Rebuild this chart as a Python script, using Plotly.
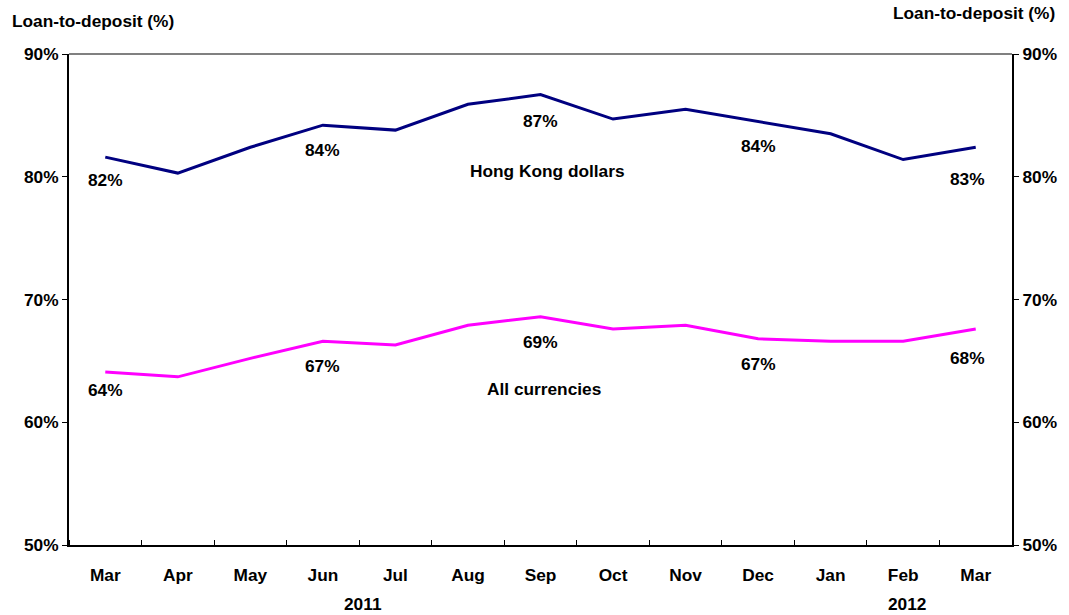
import plotly.graph_objects as go

months = ["Mar", "Apr", "May", "Jun", "Jul", "Aug", "Sep", "Oct", "Nov", "Dec", "Jan", "Feb", "Mar"]
hkd = [81.6, 80.3, 82.4, 84.2, 83.8, 85.9, 86.7, 84.7, 85.5, 84.5, 83.5, 81.4, 82.4]
allcur = [64.1, 63.7, 65.2, 66.6, 66.3, 67.9, 68.6, 67.6, 67.9, 66.8, 66.6, 66.6, 67.6]
label_idx = [0, 3, 6, 9, 12]
hkd_labels = ["82%", "84%", "87%", "84%", "83%"]
all_labels = ["64%", "67%", "69%", "67%", "68%"]
years = ["2011", "2012"]
year_pos = [3.5, 11.0]
y_ticks = [50, 60, 70, 80, 90]
y_ticktext = ["50%", "60%", "70%", "80%", "90%"]

x = list(range(len(months)))
FONT = "Liberation Sans"
FS = 17.3
bold = dict(family=FONT, size=FS, color="black", weight="bold")

fig = go.Figure()
fig.add_trace(go.Scatter(x=x, y=hkd, mode="lines", line=dict(color="#000080", width=3),
                         name="Hong Kong dollars", hoverinfo="skip"))
fig.add_trace(go.Scatter(x=x, y=allcur, mode="lines", line=dict(color="#FF00FF", width=3),
                         name="All currencies", hoverinfo="skip"))
fig.add_trace(go.Scatter(x=x, y=allcur, mode="lines", line=dict(width=0), opacity=0,
                         yaxis="y2", showlegend=False, hoverinfo="skip"))

ann = []
hkd_shift = [-23, -25, -26, -24, -32]
all_shift = [-18, -25, -25, -25, -29]
dx = [0, 0, 0, 0, -8]
for k, i in enumerate(label_idx):
    ann.append(dict(x=i, y=hkd[i], xref="x", yref="y", text=hkd_labels[k], showarrow=False,
                    yshift=hkd_shift[k], xshift=dx[k], font=bold))
    ann.append(dict(x=i, y=allcur[i], xref="x", yref="y", text=all_labels[k], showarrow=False,
                    yshift=all_shift[k], xshift=dx[k], font=bold))
ann.append(dict(x=6.0, y=80.5, xref="x", yref="y", text="Hong Kong dollars", showarrow=False,
                xshift=7, font=bold))
ann.append(dict(x=6.0, y=62.7, xref="x", yref="y", text="All currencies", showarrow=False,
                xshift=3, font=bold))
for yr, p in zip(years, year_pos):
    ann.append(dict(x=p, y=0, xref="x", yref="paper", text=yr, showarrow=False, yshift=-71,
                    xshift=4, font=bold))
ann.append(dict(x=0, y=1, xref="paper", yref="paper", xanchor="left", yanchor="bottom",
                text="Loan-to-deposit (%)", showarrow=False, xshift=-59, yshift=21, font=bold))
ann.append(dict(x=1, y=1, xref="paper", yref="paper", xanchor="right", yanchor="bottom",
                text="Loan-to-deposit (%)", showarrow=False, xshift=45, yshift=29, font=bold))

fig.update_layout(
    width=1069, height=615,
    margin=dict(l=69, r=55, t=54, b=70),
    paper_bgcolor="white", plot_bgcolor="white",
    showlegend=False,
    font=dict(family=FONT, size=FS, color="black"),
    annotations=ann,
    xaxis=dict(range=[-0.5, 12.5], tickvals=x, ticktext=months, ticks="",
               showline=True, linecolor="black", linewidth=2, showgrid=False, zeroline=False,
               ticklabelstandoff=13, tickfont=bold,
               minor=dict(tick0=0.5, dtick=1, ticks="inside", ticklen=5, tickcolor="black", tickwidth=1)),
    yaxis=dict(range=[50, 90], tickvals=y_ticks, ticktext=y_ticktext, ticks="outside", ticklen=5,
               tickcolor="black", showline=True, linecolor="black", linewidth=2, showgrid=False,
               zeroline=False, tickfont=bold),
    yaxis2=dict(range=[50, 90], tickvals=y_ticks, ticktext=y_ticktext, ticks="outside", ticklen=5,
                tickcolor="black", showline=True, linecolor="black", linewidth=2, showgrid=False,
                zeroline=False, overlaying="y", side="right", tickfont=bold),
    shapes=[dict(type="line", xref="paper", yref="paper", x0=0, x1=1, y0=1, y1=1,
                 line=dict(color="#808080", width=2))],
)

fig.write_html("out.html", config={"displayModeBar": False},
               post_script="document.body.style.margin='0';")
